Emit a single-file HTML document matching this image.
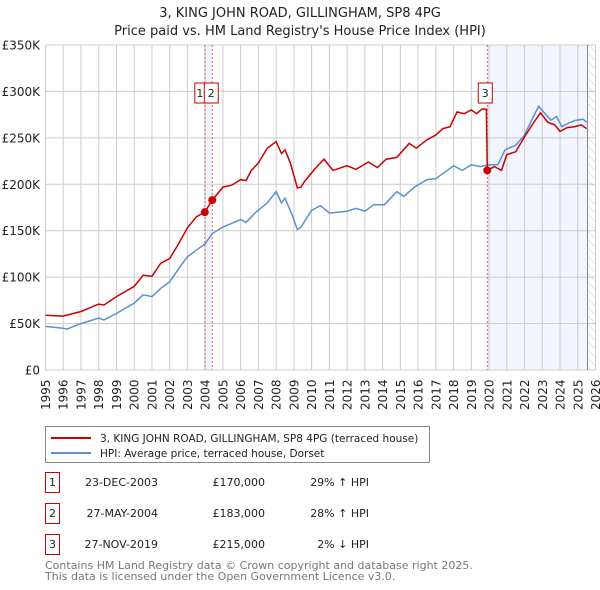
<!DOCTYPE html>
<html><head><meta charset="utf-8">
<style>
body{margin:0;background:#fff;font-family:"Liberation Sans","DejaVu Sans",sans-serif;}
#wrap{position:relative;width:600px;height:590px;overflow:hidden;}
svg text{font-family:"DejaVu Sans","Liberation Sans",sans-serif;}
</style></head>
<body>
<div id="wrap">
<svg id="chart" width="600" height="590"></svg>
</div>
<script>
const yearTicks=[1995,1996,1997,1998,1999,2000,2001,2002,2003,2004,2005,2006,2007,2008,2009,2010,2011,2012,2013,2014,2015,2016,2017,2018,2019,2020,2021,2022,2023,2024,2025,2026];
const valueTicks=[0,50,100,150,200,250,300,350];
const valueTickLabels=["£0","£50K","£100K","£150K","£200K","£250K","£300K","£350K"];
const redYears=[1995,1996,1997,1998,1998.3,1999,2000,2000.5,2001,2001.5,2002,2002.5,2003,2003.5,2003.98,2004.4,2005,2005.5,2006,2006.3,2006.6,2007,2007.5,2008,2008.3,2008.5,2008.8,2009.2,2009.4,2009.6,2010.2,2010.7,2011.2,2012,2012.5,2013.2,2013.7,2014.2,2014.8,2015.5,2015.9,2016.5,2017,2017.4,2017.8,2018.2,2018.6,2019,2019.3,2019.6,2019.85,2019.9,2020.3,2020.7,2021,2021.5,2022,2022.5,2022.9,2023.3,2023.7,2024,2024.4,2024.8,2025.2,2025.5];
const redValues=[59,58,63,71,70,79,90,102,101,115,120,136,153,165,170,183,197,199,205,204,215,223,239,246,233,237,223,196,197,203,217,227,215,220,216,224,218,227,229,244,239,248,253,260,262,278,276,280,276,281,281,215,219,215,232,235,251,266,277,267,264,257,261,262,264,260];
const hpiYears=[1995,1996,1996.2,1997,1998,1998.3,1999,2000,2000.5,2001,2001.5,2002,2002.5,2003,2003.5,2004,2004.4,2005,2006,2006.3,2006.8,2007.5,2008,2008.3,2008.5,2008.9,2009.2,2009.4,2010,2010.5,2011,2012,2012.5,2013,2013.5,2014.1,2014.8,2015.2,2015.8,2016.5,2017,2017.5,2018,2018.5,2019,2019.5,2020,2020.5,2020.9,2021.5,2022,2022.5,2022.8,2023.2,2023.5,2023.8,2024.1,2024.5,2024.9,2025.3,2025.5];
const hpiValues=[47,45,44,50,56,54,61,72,81,79,88,95,109,122,129,136,147,154,162,159,169,180,192,180,185,167,151,154,172,177,169,171,174,171,178,178,192,187,197,205,206,213,220,215,221,219,221,221,237,242,253,273,284,275,269,273,262,266,269,270,267];
const saleYears=[2003.98,2004.40,2019.90];
const saleValues=[170,183,215];
const saleLabels=["1","2","3"];
const saleDates=["23-DEC-2003","27-MAY-2004","27-NOV-2019"];
const salePrices=["£170,000","£183,000","£215,000"];
const saleHpi=["29% ↑ HPI","28% ↑ HPI","2% ↓ HPI"];

const L=45.5,R=595.5,T=45,B=370;
const x=y=>L+(y-1995)/(2026-1995)*(R-L);
const yv=v=>B-v/350*(B-T);
const NS="http://www.w3.org/2000/svg";
const svg=document.getElementById('chart');
function mk(tag,attrs,parent){const e=document.createElementNS(NS,tag);for(const k in attrs)e.setAttribute(k,attrs[k]);(parent||svg).appendChild(e);return e;}

let t=mk('text',{x:300,y:17,'text-anchor':'middle','font-size':13,fill:'#222'});t.textContent="3, KING JOHN ROAD, GILLINGHAM, SP8 4PG";


t=mk('text',{x:300,y:35,'text-anchor':'middle','font-size':13,fill:'#222'});t.textContent="Price paid vs. HM Land Registry's House Price Index (HPI)";



let r=mk('rect',{x:x(saleYears[0]),y:T,width:x(saleYears[1])-x(saleYears[0]),height:B-T,fill:'#eef2fb'});


r=mk('rect',{x:x(saleYears[2]),y:T,width:x(2025.55)-x(saleYears[2]),height:B-T,fill:'#f2f5fd'});


const defs=mk('defs',{});
const pat=mk('pattern',{id:'hatch',width:6,height:6,patternUnits:'userSpaceOnUse',patternTransform:'rotate(-45)'},defs);
mk('line',{x1:0,y1:0,x2:0,y2:6,stroke:'#ccc','stroke-width':1},pat);
r=mk('rect',{x:x(2025.55),y:T,width:R-x(2025.55),height:B-T,fill:'url(#hatch)'});



yearTicks.forEach(yr=>{
 const l=mk('line',{x1:x(yr),x2:x(yr),y1:T,y2:B,stroke:'#cccccc','stroke-width':1});
 
 
 const tx=mk('text',{transform:`translate(${x(yr)+4.5},${B+40}) rotate(-90)`,'font-size':12,fill:'#222'});
 tx.textContent=yr;
 
 
});
valueTicks.forEach((v,i)=>{
 const l=mk('line',{x1:L,x2:R,y1:yv(v),y2:yv(v),stroke:'#cccccc','stroke-width':1});
 
 
 const tx=mk('text',{x:40,y:yv(v)+4.5,'text-anchor':'end','font-size':12,fill:'#222'});
 tx.textContent=valueTickLabels[i];
 
 
});
let ln=mk('line',{x1:x(2025.55),x2:x(2025.55),y1:T,y2:B,stroke:'#888','stroke-width':1});



saleYears.forEach(sy=>{
 const l=mk('line',{x1:x(sy),x2:x(sy),y1:T,y2:B,stroke:'#e06060','stroke-width':1,'stroke-dasharray':'2,2'});
 
 
});

function pts(xs,vs){return xs.map((a,i)=>x(a).toFixed(1)+','+yv(vs[i]).toFixed(1)).join(' ');}
let p=mk('polyline',{points:pts(hpiYears,hpiValues),fill:'none',stroke:'#5b8fd0','stroke-width':1.5});


p=mk('polyline',{points:pts(redYears,redValues),fill:'none',stroke:'#cc0000','stroke-width':1.5});



saleYears.forEach((sy,i)=>{
 const c=mk('circle',{cx:x(sy),cy:yv(saleValues[i]),r:4,fill:'#cc0000'});
 
 
});
const boxX=[x(saleYears[0])-10,x(saleYears[1])-8,x(saleYears[2])-9];
saleLabels.forEach((s,i)=>{
 const g=mk('g',{});
 
 
 mk('rect',{x:boxX[i],y:83,width:i==0?10:14,height:20,fill:'#fff',stroke:'#cc0000','stroke-width':1},g);
 const tx=mk('text',{x:boxX[i]+(i==0?5:7),y:97,'text-anchor':'middle','font-size':11,fill:'#222'},g);
 tx.textContent=s;
});

const lg=mk('g',{});


mk('rect',{x:45.5,y:426.5,width:384,height:36,fill:'#fff',stroke:'#888'},lg);
mk('line',{x1:51,x2:91,y1:438,y2:438,stroke:'#cc0000','stroke-width':2},lg);
mk('line',{x1:51,x2:91,y1:453,y2:453,stroke:'#5b8fd0','stroke-width':2},lg);
let le=mk('text',{x:100,y:442,'font-size':10.5,fill:'#222'},lg);le.textContent="3, KING JOHN ROAD, GILLINGHAM, SP8 4PG (terraced house)";


le=mk('text',{x:100,y:457,'font-size':10.5,fill:'#222'},lg);le.textContent="HPI: Average price, terraced house, Dorset";



const rowY=[482,513,544];
saleLabels.forEach((s,i)=>{
 const g=mk('g',{});
 
 
 mk('rect',{x:45.5,y:rowY[i]-9.5,width:14,height:20,fill:'#fff',stroke:'#cc0000'},g);
 let tt=mk('text',{x:52.5,y:rowY[i]+4,'text-anchor':'middle','font-size':11,fill:'#222'},g);tt.textContent=s;
 tt=mk('text',{x:158,y:rowY[i]+4,'text-anchor':'end','font-size':11,fill:'#222'},g);tt.textContent=saleDates[i];
 tt=mk('text',{x:265,y:rowY[i]+4,'text-anchor':'end','font-size':11,fill:'#222'},g);tt.textContent=salePrices[i];
 tt=mk('text',{x:369,y:rowY[i]+4,'text-anchor':'end','font-size':11,fill:'#222'},g);tt.textContent=saleHpi[i];
});
let f=mk('text',{x:45,y:569,'font-size':11,fill:'#777'});f.textContent="Contains HM Land Registry data © Crown copyright and database right 2025.";


f=mk('text',{x:45,y:580,'font-size':11,fill:'#777'});f.textContent="This data is licensed under the Open Government Licence v3.0.";


</script>
</body></html>
